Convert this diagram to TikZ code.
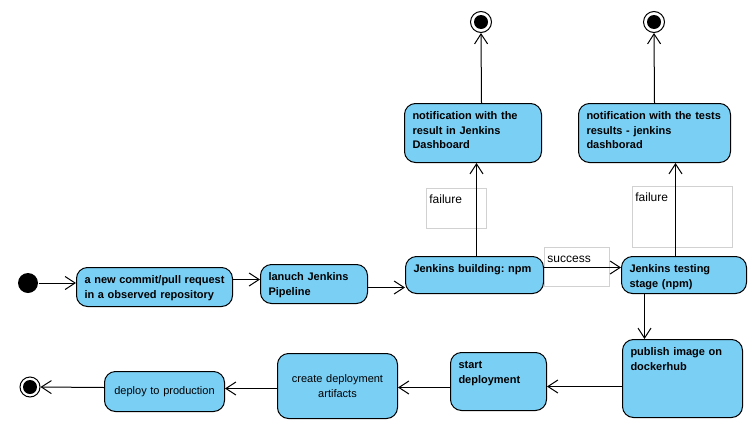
\documentclass[tikz,border=0pt]{standalone}
\usepackage{fontspec}
\setmainfont{Liberation Sans}
\frenchspacing
\usetikzlibrary{arrows.meta}
\definecolor{actblue}{RGB}{122,207,245}
\tikzset{
  act/.style={draw, fill=actblue, rounded corners=11pt, anchor=north west, align=left,
    font=\fontsize{11pt}{14.5pt}\selectfont\bfseries, inner xsep=8pt, inner ysep=7pt, text height=9pt},
  actc/.style={draw, fill=actblue, rounded corners=11pt, anchor=north west, align=center,
    font=\fontsize{11pt}{14.5pt}\selectfont, inner sep=8pt, text width=104pt},
  guard/.style={draw=black!18, line width=0.8pt, anchor=north west, align=left,
    font=\fontsize{12pt}{14pt}\selectfont, inner sep=3pt, text height=12pt},
  final/.style={circle, draw, fill=white, minimum size=21pt, inner sep=0pt,
    path picture={\fill[black] (path picture bounding box.center) circle (7pt);}}
}
\begin{document}
\begin{tikzpicture}[x=1pt, y=-1pt, line width=1pt, >={Straight Barb[length=10pt,width=13pt]}]
\useasboundingbox (0,0) rectangle (755,426);
\node(I) [circle, fill, minimum size=20pt, inner sep=0pt] at (28,283) {};
\node(C) [act, text width=140pt, text depth=16pt] at (76,267) {a new commit/pull request\\in a observed repository};
\node(L) [act, text width=91pt, text depth=16pt] at (260,264) {lanuch Jenkins\\Pipeline};
\node(B) [act, text width=122pt, text depth=14pt] at (405,256) {Jenkins building: npm};
\node(T) [act, text width=109pt, text depth=14pt] at (621,256) {Jenkins testing\\stage (npm)};
\node(NB) [act, text width=121pt, text depth=36pt] at (404,103) {notification with the\\result in Jenkins\\Dashboard};
\node(NT) [act, text width=136pt, text depth=36pt] at (578,103) {notification with the tests\\results - jenkins\\dashborad};
\node(EB) [final] at (481,22) {};
\node(ET) [final] at (654,22) {};
\node(P) [act, text width=104pt, text depth=55pt] at (622,339) {publish image on\\dockerhub};
\node(SD) [act, text width=80pt, text depth=35pt] at (450,352) {start\\deployment};
\node(CA) [actc, minimum height=65pt] at (277,353) {create deployment\\artifacts};
\node(DP) [actc, minimum height=40pt] at (104,371) {deploy to production};
\node(E) [final, minimum size=20pt] at (30,387) {};
\node(GS) [guard, text width=59pt, text depth=21pt] at (544,247) {success};
\node(GB) [guard, text width=54pt, text depth=22pt] at (426,188) {failure};
\node(GT) [guard, text width=94pt, text depth=43pt] at (632,186) {failure};
\draw[->] (I) -- (I -| C.west);
\draw[->] ([yshift=7.5pt]C.east) -- ([yshift=4.5pt]L.west);
\draw[->] ([yshift=-3.5pt]L.east) -- ([yshift=-12.5pt]B.west);
\draw[->] ([yshift=7.5pt]B.east) -- ([yshift=7.5pt]T.west);
\draw[->] ([xshift=2pt]B.north) -- ([xshift=3.5pt]NB.south);
\draw[->] ([xshift=-8.5pt]T.north) -- ([xshift=21pt]NT.south);
\draw[->] ([xshift=8.5pt]NB.north) -- (EB.south);
\draw[->] (NT.north) -- (ET.south);
\draw[->] ([xshift=-39.5pt]T.south) -- ([xshift=-38pt]P.north);
\draw[->] ([yshift=-8pt]P.west) -- ([yshift=-5pt]SD.east);
\draw[->] ([yshift=-6pt]SD.west) -- ([yshift=-1.5pt]CA.east);
\draw[->] ([yshift=-2.5pt]CA.west) -- ([yshift=3pt]DP.east);
\draw[->] ([yshift=4pt]DP.west) -- (E.east);
\end{tikzpicture}
\end{document}
